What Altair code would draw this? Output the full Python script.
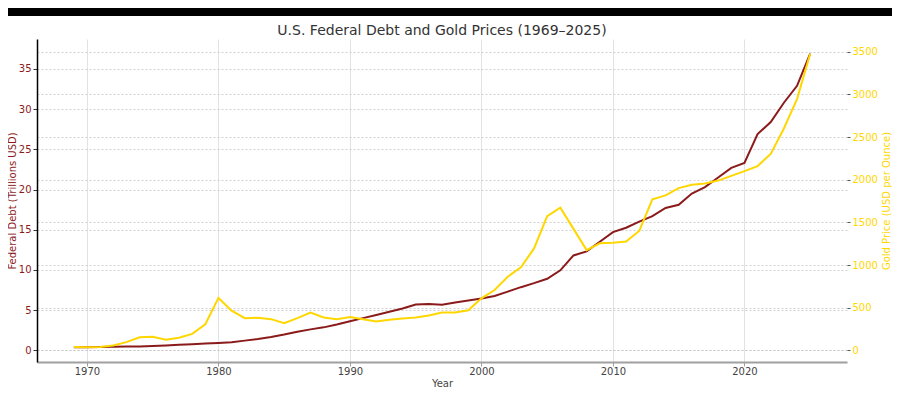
import altair as alt
import pandas as pd

years = list(range(1969, 2026))
debt = [0.37, 0.38, 0.40, 0.43, 0.46, 0.48, 0.53, 0.60, 0.68, 0.75, 0.83,
        0.91, 1.00, 1.20, 1.40, 1.65, 1.95, 2.30, 2.60, 2.85, 3.20,
        3.60, 4.00, 4.40, 4.80, 5.20, 5.70, 5.75, 5.65, 5.95, 6.20,
        6.45, 6.75, 7.30, 7.85, 8.35, 8.90, 9.95, 11.80, 12.30, 13.50,
        14.70, 15.25, 16.00, 16.70, 17.70, 18.10, 19.50, 20.30, 21.50, 22.70,
        23.30, 26.90, 28.40, 30.80, 32.90, 36.90]
gold = [41, 36, 41, 58, 97, 154, 161, 125, 148, 193, 306,
        615, 465, 378, 382, 366, 320, 378, 444, 385, 366,
        390, 366, 339, 358, 374, 385, 409, 443, 443, 470,
        610, 708, 863, 973, 1195, 1572, 1673, 1424, 1175, 1255,
        1262, 1275, 1400, 1770, 1817, 1902, 1941, 1955, 1990, 2045,
        2100, 2160, 2303, 2600, 2945, 3477]

x_ticks = [1970, 1980, 1990, 2000, 2010, 2020]
debt_ticks = [0, 5, 10, 15, 20, 25, 30, 35]
gold_ticks = [0, 500, 1000, 1500, 2000, 2500, 3000, 3500]

df = pd.DataFrame({"Year": years, "Debt": debt, "Gold": gold})

W, H = 810, 323
PL, PT, PR, PB = 29, 31, 45, 26
FONT = "DejaVu Sans"
RED = "#8B1A1A"
GOLD = "#FFD700"

x = alt.X(
    "Year:Q",
    scale=alt.Scale(domain=[1966.2, 2027.8], nice=False, zero=False),
    axis=alt.Axis(
        values=x_ticks, format="d", title="Year", grid=True,
        gridColor="#e2e2e2", gridWidth=1,
        domainColor="#a0a0a0", domainWidth=2,
        tickColor="#a0a0a0", tickSize=4, tickWidth=1,
        labelColor="#444444", labelFontSize=10, labelFont=FONT, labelPadding=0,
        titleColor="#444444", titleFontSize=10, titleFont=FONT,
        titleFontWeight="normal", titlePadding=2,
    ),
)

debt_line = alt.Chart(df).mark_line(color=RED, strokeWidth=2).encode(
    x=x,
    y=alt.Y(
        "Debt:Q",
        scale=alt.Scale(domain=[-1.46, 38.73], nice=False, zero=False),
        axis=alt.Axis(
            orient="left", values=debt_ticks, format="d",
            title="Federal Debt (Trillions USD)",
            grid=True, gridDash=[2, 2], gridColor="#c4c4c4", gridWidth=0.8,
            domainColor="#000000", domainWidth=1.5,
            tickColor="#333333", tickSize=4, tickWidth=1,
            labelColor=RED, labelFontSize=10, labelFont=FONT, labelPadding=2,
            titleColor=RED, titleFontSize=10, titleFont=FONT,
            titleFontWeight="normal", titlePadding=1,
        ),
    ),
)

gold_line = alt.Chart(df).mark_line(color=GOLD, strokeWidth=2).encode(
    x=x,
    y=alt.Y(
        "Gold:Q",
        scale=alt.Scale(domain=[-136, 3649], nice=False, zero=False),
        axis=alt.Axis(
            orient="right", values=gold_ticks, format="d",
            title="Gold Price (USD per Ounce)",
            grid=True, gridDash=[2, 2], gridColor="#c4c4c4", gridWidth=0.8,
            domain=False,
            tickColor="#555555", tickSize=3, tickWidth=1,
            labelColor=GOLD, labelFontSize=10, labelFont=FONT, labelPadding=2,
            titleColor=GOLD, titleFontSize=10, titleFont=FONT,
            titleFontWeight="normal", titlePadding=4, titleAngle=-90,
            titleBaseline="top",
        ),
    ),
)

band = alt.Chart(pd.DataFrame({"k": [0]})).mark_rect(color="black").encode(
    x=alt.value(-PL), x2=alt.value(W + PR), y=alt.value(-PT), y2=alt.value(-PT + 8)
)

chart = (
    alt.layer(band, debt_line, gold_line)
    .resolve_scale(y="independent")
    .properties(
        width=W, height=H,
        title=alt.TitleParams(
            "U.S. Federal Debt and Gold Prices (1969–2025)",
            fontSize=14, font=FONT, fontWeight="normal", color="#333333",
            offset=-30, frame="group",
        ),
        autosize=alt.AutoSizeParams(type="none"),
        padding={"left": PL, "top": PT, "right": PR, "bottom": PB},
        background="white",
    )
    .configure_view(stroke=None)
)

chart.save("out.html", embed_options={"renderer": "svg", "actions": False})
